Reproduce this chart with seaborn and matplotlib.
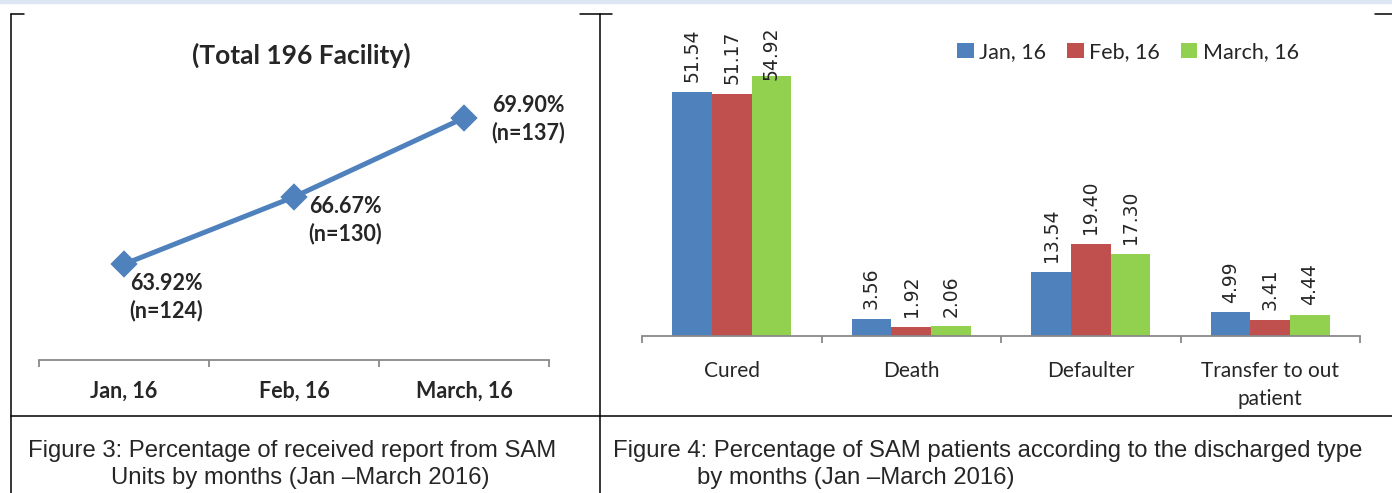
import matplotlib
matplotlib.use("Agg")
import matplotlib.pyplot as plt
from matplotlib.lines import Line2D
from matplotlib.patches import Rectangle
import numpy as np
import pandas as pd
import seaborn as sns

# ------------------------------------------------------------
# Data
# ------------------------------------------------------------
months = ["Jan, 16", "Feb, 16", "March, 16"]
reported_pct = [63.92, 66.67, 69.90]
reported_n = [124, 130, 137]

discharge_types = ["Cured", "Death", "Defaulter", "Transfer to out\npatient"]
jan_pct = [51.54, 3.56, 13.54, 4.99]
feb_pct = [51.17, 1.92, 19.40, 3.41]
mar_pct = [54.92, 2.06, 17.30, 4.44]

# ------------------------------------------------------------
# Layout helpers (pixel coordinates of a 1392x493 canvas)
# ------------------------------------------------------------
W, H, DPI = 1392, 493, 100
BLUE, RED, GREEN = "#4F81BD", "#C0504D", "#92D050"
AXIS_GREY = "#898989"
CHART_FONT = ["Lato", "DejaVu Sans"]
CAPTION_FONT = ["Liberation Sans", "DejaVu Sans"]


def box(left, top, right, bottom):
    return [left / W, 1 - bottom / H, (right - left) / W, (bottom - top) / H]


def fx(x):
    return x / W


def fy(y):
    return 1 - y / H


sns.set_theme(style="white")
plt.rcParams["font.family"] = CHART_FONT

fig = plt.figure(figsize=(W / DPI, H / DPI), dpi=DPI)
fig.patch.set_facecolor("white")

# page decorations: top band and table borders
fig.patches.append(Rectangle((0, fy(3)), 1, 3 / H, transform=fig.transFigure,
                             color="#DCE6F2", zorder=0))
border = dict(color="black", linewidth=1.1, transform=fig.transFigure)
fig.lines.extend([
    Line2D([fx(11), fx(11)], [fy(13.5), 0], **border),
    Line2D([fx(600), fx(600)], [fy(13.5), 0], **border),
    Line2D([fx(11), 1], [fy(416), fy(416)], **border),
    Line2D([fx(11), fx(24)], [fy(13.5), fy(13.5)], **border),
    Line2D([fx(580), fx(612)], [fy(13.5), fy(13.5)], **border),
    Line2D([fx(1375), 1], [fy(13.5), fy(13.5)], **border),
])

# ------------------------------------------------------------
# Figure 3: line chart
# ------------------------------------------------------------
ax1 = fig.add_axes(box(39, 66.6, 549, 360))
sns.pointplot(x=months, y=reported_pct, ax=ax1, color=BLUE, markers="D",
              markersize=11, linewidth=3.6, errorbar=None)
ax1.set_xlim(-0.5, len(months) - 0.5)
ax1.set_ylim(60, 72)

label_offsets = [(42, -33), (51, -23), (64, -1)]   # pixels
for i, (v, n) in enumerate(zip(reported_pct, reported_n)):
    dx, dy = label_offsets[i]
    ax1.annotate(f"{v:.2f}%\n(n={n})", xy=(i, v), xytext=(dx * 0.72, dy * 0.72),
                 textcoords="offset points", ha="center", va="center",
                 fontsize=15.5, fontweight="bold", linespacing=1.3)

for s in ["top", "left", "right"]:
    ax1.spines[s].set_visible(False)
ax1.spines["bottom"].set_color(AXIS_GREY)
ax1.spines["bottom"].set_linewidth(1.3)
ax1.set_yticks([])
ax1.set_xticks(np.arange(len(months) + 1) - 0.5)
ax1.set_xticklabels([])
ax1.set_xticks(np.arange(len(months)), labels=months, minor=True)
ax1.tick_params(axis="x", which="major", direction="out", length=5,
                width=1.3, color=AXIS_GREY, bottom=True)
ax1.tick_params(axis="x", which="minor", length=0, pad=15, labelsize=15.5)
for t in ax1.get_xticklabels(minor=True):
    t.set_fontweight("bold")
ax1.set_xlabel("")
ax1.set_ylabel("")
fig.text(fx(301), fy(55), "(Total 196 Facility)", ha="center", va="center",
         fontsize=19, fontweight="bold")

# ------------------------------------------------------------
# Figure 4: grouped bar chart
# ------------------------------------------------------------
df = pd.DataFrame({
    "type": discharge_types * 3,
    "pct": jan_pct + feb_pct + mar_pct,
    "month": [m for m in months for _ in discharge_types],
})

ax2 = fig.add_axes(box(642, 27, 1360, 336))
sns.barplot(data=df, x="type", y="pct", hue="month", hue_order=months,
            palette=[BLUE, RED, GREEN], width=0.664, saturation=1,
            linewidth=0, ax=ax2)
ax2.set_xlim(-0.5, len(discharge_types) - 0.5)
ax2.set_ylim(0, 65.3)

value_labels = []
for cont in ax2.containers:
    value_labels += ax2.bar_label(cont, fmt="%.2f", rotation=90, padding=7,
                                  fontsize=13.5, family=["DejaVu Sans"])

for s in ["top", "left", "right"]:
    ax2.spines[s].set_visible(False)
ax2.spines["bottom"].set_color(AXIS_GREY)
ax2.spines["bottom"].set_linewidth(1.3)
ax2.set_yticks([])
ax2.set_xticks(np.arange(len(discharge_types) + 1) - 0.5)
ax2.set_xticklabels([])
ax2.set_xticks(np.arange(len(discharge_types)), labels=discharge_types, minor=True)
ax2.tick_params(axis="x", which="major", direction="out", length=5,
                width=1.3, color=AXIS_GREY, bottom=True)
ax2.tick_params(axis="x", which="minor", length=0, pad=18, labelsize=15)
for t in ax2.get_xticklabels(minor=True):
    t.set_linespacing(1.5)
ax2.set_xlabel("")
ax2.set_ylabel("")

handles, labels = ax2.get_legend_handles_labels()
ax2.legend(handles, labels, loc="center left", ncol=3, frameon=False,
           bbox_to_anchor=(fx(938), fy(52)), bbox_transform=fig.transFigure,
           fontsize=15.5, handlelength=0.75, handleheight=0.75,
           handletextpad=0.25, columnspacing=1.0)

# keep value labels inside the plot area (as Excel does)
fig.canvas.draw()
renderer = fig.canvas.get_renderer()
ax_top = ax2.get_window_extent(renderer).y1
for t in value_labels:
    bb = t.get_window_extent(renderer)
    if bb.y1 > ax_top:
        x0, y0 = t.xyann
        t.xyann = (x0, y0 - (bb.y1 - ax_top) * 72 / DPI)

# ------------------------------------------------------------
# Captions
# ------------------------------------------------------------
cap = dict(va="center", fontsize=17.2, family=CAPTION_FONT)
fig.text(fx(292), fy(451), "Figure 3: Percentage of received report from SAM",
         ha="center", **cap)
fig.text(fx(300), fy(478), "Units by months (Jan \u2013March 2016)",
         ha="center", **cap)
fig.text(fx(613), fy(451),
         "Figure 4: Percentage of SAM patients according to the discharged type",
         ha="left", **cap)
fig.text(fx(697), fy(478), "by months (Jan \u2013March 2016)",
         ha="left", **cap)

fig.savefig("out.png", dpi=DPI)
